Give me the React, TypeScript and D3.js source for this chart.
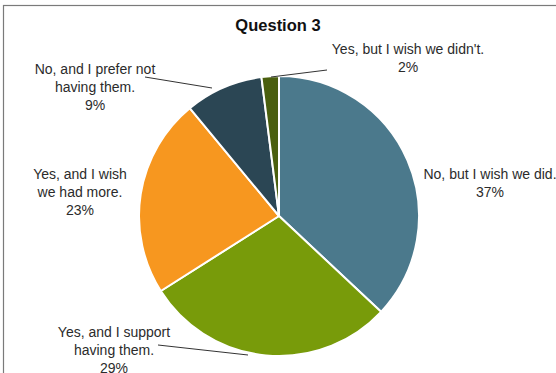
import React from "react";
import * as d3 from "d3";

const categories = [
  "No, but I wish we did.",
  "Yes, and I support having them.",
  "Yes, and I wish we had more.",
  "No, and I prefer not having them.",
  "Yes, but I wish we didn't.",
];
const values = [37, 29, 23, 9, 2];
const colors = ["#4B798C", "#789B0A", "#F7971F", "#2B4654", "#4A5F0E"];
const labelLines = [
  ["No, but I wish we did.", "37%"],
  ["Yes, and I support", "having them.", "29%"],
  ["Yes, and I wish", "we had more.", "23%"],
  ["No, and I prefer not", "having them.", "9%"],
  ["Yes, but I wish we didn't.", "2%"],
];
const title = "Question 3";

const W = 556;
const H = 373;
const cx = 279;
const cy = 216;
const R = 140;

// label anchor (center x, first baseline y) and leader line (from label to pie edge)
const labelPos = [
  { x: 490, y: 179, leader: null as null | [number, number, number, number] },
  { x: 114, y: 337, leader: [158, 345, 248, 355] as [number, number, number, number] },
  { x: 80, y: 179, leader: null },
  { x: 95, y: 74, leader: [145, 77, 212, 88] as [number, number, number, number] },
  { x: 408, y: 54, leader: [327, 70, 271, 77] as [number, number, number, number] },
];

export default function App() {
  const pie = d3.pie<number>().sort(null).value((d) => d);
  const arcs = pie(values);
  const arc = d3.arc<d3.PieArcDatum<number>>().innerRadius(0).outerRadius(R);
  const font = "'Liberation Sans', Arial, sans-serif";
  return (
    <svg
      width={W}
      height={H}
      style={{ position: "absolute", left: 0, top: 0, background: "#fff" }}
    >
      <rect x={3.5} y={5.5} width={W} height={H} fill="#fff" stroke="#7a7a7a" strokeWidth={1.2} />
      <text
        x={278}
        y={31}
        textAnchor="middle"
        fontFamily={font}
        fontWeight="bold"
        fontSize={16.5}
        fill="#111"
      >
        {title}
      </text>
      <g transform={`translate(${cx},${cy})`}>
        {arcs.map((a, i) => (
          <path
            key={categories[i]}
            d={arc(a) || ""}
            fill={colors[i]}
            stroke="#fff"
            strokeWidth={2}
            strokeLinejoin="round"
          />
        ))}
      </g>
      {labelPos.map((p, i) =>
        p.leader ? (
          <line
            key={"l" + i}
            x1={p.leader[0]}
            y1={p.leader[1]}
            x2={p.leader[2]}
            y2={p.leader[3]}
            stroke="#333"
            strokeWidth={1}
          />
        ) : null
      )}
      {labelPos.map((p, i) => (
        <text
          key={"t" + i}
          textAnchor="middle"
          fontFamily={font}
          fontSize={14}
          fill="#2b2b2b"
        >
          {labelLines[i].map((ln, j) => (
            <tspan key={j} x={p.x} y={p.y + j * 18}>
              {ln}
            </tspan>
          ))}
        </text>
      ))}
    </svg>
  );
}
